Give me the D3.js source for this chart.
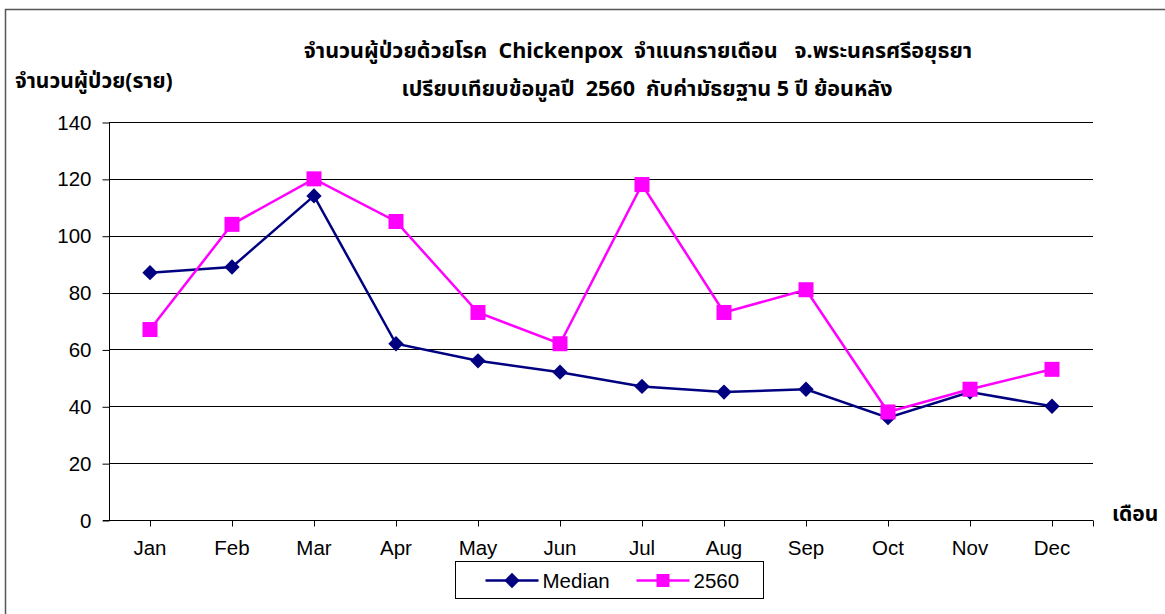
<!DOCTYPE html>
<html>
<head>
<meta charset="utf-8">
<script src="https://cdn.jsdelivr.net/npm/d3@7"></script>
<style>
  html, body { margin: 0; padding: 0; background: #fff; }
  svg { display: block; }
  .thai { font-family: "Noto Sans Thai", "Noto Sans", "DejaVu Sans", sans-serif; }
  .latin { font-family: "Liberation Sans", Arial, sans-serif; }
</style>
</head>
<body>
<svg id="chart" width="1165" height="614"></svg>
<script>
// Monthly chickenpox cases, Phra Nakhon Si Ayutthaya
const months = ["Jan", "Feb", "Mar", "Apr", "May", "Jun", "Jul", "Aug", "Sep", "Oct", "Nov", "Dec"];
const median = [87, 89, 114, 62, 56, 52, 47, 45, 46, 36, 45, 40];
const year2560 = [67, 104, 120, 105, 73, 62, 118, 73, 81, 38, 46, 53];
const yTicks = [0, 20, 40, 60, 80, 100, 120, 140];
const seriesNames = ["Median", "2560"];

const titleLine1 = "จำนวนผู้ป่วยด้วยโรค  Chickenpox  จำแนกรายเดือน   จ.พระนครศรีอยุธยา";
const titleLine2 = "เปรียบเทียบข้อมูลปี  2560  กับค่ามัธยฐาน 5 ปี ย้อนหลัง";
const yLabel = "จำนวนผู้ป่วย(ราย)";
const xLabel = "เดือน";

const svg = d3.select("#chart");
const W = 1165, H = 614;
const plot = { left: 109, right: 1093, top: 122, bottom: 520 };
const labelSize = 20.5;

// outer frame
svg.append("path")
  .attr("d", `M5.5,${H} V9.5 H${W}`)
  .attr("fill", "none")
  .attr("stroke", "#555")
  .attr("stroke-width", 1.5);

const x = d3.scalePoint().domain(months).range([plot.left, plot.right]).padding(0.5);
const y = d3.scaleLinear().domain([0, 140]).range([plot.bottom, plot.top]);

// horizontal gridlines
svg.append("g")
  .selectAll("line")
  .data(yTicks.filter(d => d > 0))
  .join("line")
  .attr("x1", plot.left).attr("x2", plot.right)
  .attr("y1", d => Math.round(y(d)) + 0.5).attr("y2", d => Math.round(y(d)) + 0.5)
  .attr("stroke", "#000").attr("stroke-width", 1);

// y axis
const yAxis = svg.append("g")
  .attr("transform", `translate(${plot.left + 0.5},0.5)`)
  .call(d3.axisLeft(y).tickValues(yTicks).tickSize(7).tickPadding(11).tickFormat(d3.format("d")));
yAxis.select(".domain").attr("stroke", "#000").attr("d", `M0,${plot.top}V${plot.bottom}`);
yAxis.selectAll(".tick line").attr("stroke", "#000");
yAxis.selectAll("text")
  .attr("class", "latin")
  .attr("font-size", labelSize)
  .attr("fill", "#000");

// x axis
const xg = svg.append("g").attr("transform", `translate(0,${plot.bottom + 0.5})`);
xg.append("line")
  .attr("x1", plot.left - 6).attr("x2", plot.right)
  .attr("stroke", "#000");
const xTickPos = months.map(m => x(m)).concat([plot.right]);
xg.selectAll("line.tk")
  .data(xTickPos)
  .join("line")
  .attr("class", "tk")
  .attr("x1", d => Math.round(d) + 0.5).attr("x2", d => Math.round(d) + 0.5)
  .attr("y1", 0).attr("y2", 6)
  .attr("stroke", "#000");
xg.selectAll("text")
  .data(months)
  .join("text")
  .attr("class", "latin")
  .attr("x", d => x(d))
  .attr("y", 34)
  .attr("text-anchor", "middle")
  .attr("font-size", labelSize)
  .attr("fill", "#000")
  .text(d => d);

// series lines and markers
const navy = "#000080", magenta = "#FF00FF";
const line = d3.line().x((d, i) => x(months[i])).y(d => y(d));

svg.append("path")
  .datum(median)
  .attr("d", line)
  .attr("fill", "none")
  .attr("stroke", navy)
  .attr("stroke-width", 2.5);

svg.append("path")
  .datum(year2560)
  .attr("d", line)
  .attr("fill", "none")
  .attr("stroke", magenta)
  .attr("stroke-width", 2.5);

const diamond = d3.symbol().type(d3.symbolDiamond2).size(150);
svg.append("g")
  .selectAll("path")
  .data(median)
  .join("path")
  .attr("transform", (d, i) => `translate(${x(months[i])},${y(d)})`)
  .attr("d", diamond)
  .attr("fill", navy);

svg.append("g")
  .selectAll("rect")
  .data(year2560)
  .join("rect")
  .attr("x", (d, i) => x(months[i]) - 7.5)
  .attr("y", d => y(d) - 7.5)
  .attr("width", 15).attr("height", 15)
  .attr("fill", magenta);

// titles
svg.append("text")
  .attr("class", "thai")
  .attr("x", 638).attr("y", 58)
  .attr("text-anchor", "middle")
  .attr("font-size", 21.5).attr("font-weight", "bold")
  .style("white-space", "pre")
  .text(titleLine1);
svg.append("text")
  .attr("class", "thai")
  .attr("x", 647).attr("y", 96)
  .attr("text-anchor", "middle")
  .attr("font-size", 21.5).attr("font-weight", "bold")
  .style("white-space", "pre")
  .text(titleLine2);

svg.append("text")
  .attr("class", "thai")
  .attr("x", 15).attr("y", 88)
  .attr("font-size", 21).attr("font-weight", "bold")
  .text(yLabel);

svg.append("text")
  .attr("class", "thai")
  .attr("x", 1112).attr("y", 521)
  .attr("font-size", 21).attr("font-weight", "bold")
  .text(xLabel);

// legend
const lg = svg.append("g").attr("transform", "translate(455.5,561.5)");
lg.append("rect")
  .attr("width", 308).attr("height", 37)
  .attr("fill", "#fff").attr("stroke", "#000");

const legendItems = [
  { name: seriesNames[0], color: navy, shape: "diamond", x0: 30 },
  { name: seriesNames[1], color: magenta, shape: "square", x0: 181 }
];
legendItems.forEach(it => {
  const g = lg.append("g").attr("transform", `translate(${it.x0},19)`);
  g.append("line").attr("x1", 0).attr("x2", 53).attr("stroke", it.color).attr("stroke-width", 2.5);
  if (it.shape === "diamond") {
    g.append("path").attr("transform", "translate(26.5,0)").attr("d", diamond).attr("fill", it.color);
  } else {
    g.append("rect").attr("x", 20).attr("y", -6.5).attr("width", 13).attr("height", 13).attr("fill", it.color);
  }
  g.append("text")
    .attr("class", "latin")
    .attr("x", 57).attr("y", 7.5)
    .attr("font-size", labelSize)
    .attr("fill", "#000")
    .text(it.name);
});
</script>
</body>
</html>
